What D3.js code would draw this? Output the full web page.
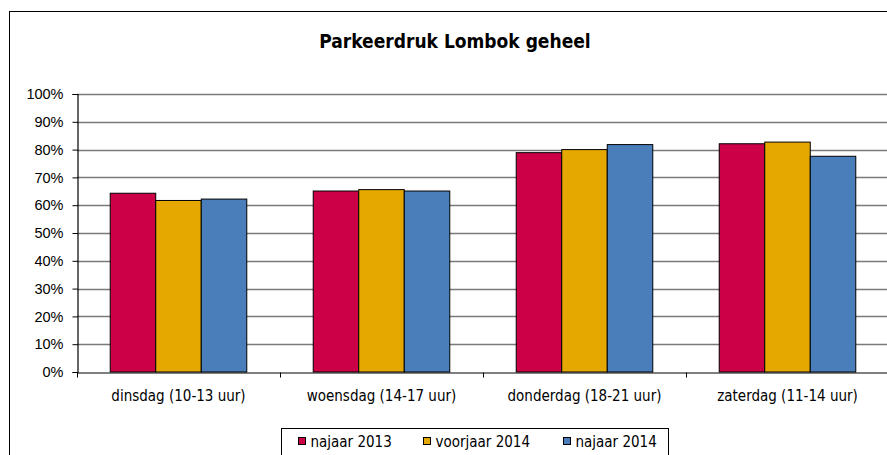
<!DOCTYPE html>
<html>
<head>
<meta charset="utf-8">
<script src="https://cdn.jsdelivr.net/npm/d3@7"></script>
<style>
body { margin: 0; background: #fff; }
svg { display: block; }
.cond { font-family: "DejaVu Sans Condensed", "DejaVu Sans", sans-serif; font-stretch: condensed; }
</style>
</head>
<body>
<div id="chart"></div>
<script>
// data
var days = ["dinsdag (10-13 uur)", "woensdag (14-17 uur)", "donderdag (18-21 uur)", "zaterdag (11-14 uur)"];
var seriesNames = ["najaar 2013", "voorjaar 2014", "najaar 2014"];
var najaar2013 = [0.643, 0.651, 0.789, 0.821];
var voorjaar2014 = [0.617, 0.656, 0.800, 0.827];
var najaar2014 = [0.622, 0.651, 0.818, 0.776];
var yTicks = [0, 0.1, 0.2, 0.3, 0.4, 0.5, 0.6, 0.7, 0.8, 0.9, 1];
var colors = ["#CC0047", "#E5A800", "#4A7EBB"];

var values = [najaar2013, voorjaar2014, najaar2014];

var svg = d3.select("#chart").append("svg").attr("width", 887).attr("height", 455);

// outer frame
svg.append("rect").attr("x", 9.5).attr("y", 11.5).attr("width", 900).attr("height", 460)
  .attr("fill", "#fff").attr("stroke", "#000").attr("stroke-width", 1);

svg.append("text").attr("class", "cond").attr("x", 455).attr("y", 48).attr("text-anchor", "middle")
  .attr("font-size", 19).attr("font-weight", "bold").text("Parkeerdruk Lombok geheel");

var plotL = 77, plotR = 889, plotT = 94, plotB = 372;

var x = d3.scaleBand().domain(days).range([plotL, plotR]).paddingInner(0).paddingOuter(0);
var xs = d3.scaleBand().domain(seriesNames).range([0, x.bandwidth()]).paddingInner(0).paddingOuter(0.73);
var y = d3.scaleLinear().domain([0, 1]).range([plotB, plotT]);

// gridlines
svg.append("g").selectAll("line").data(yTicks.slice(1)).join("line")
  .attr("x1", plotL).attr("x2", plotR)
  .attr("y1", function(d) { return Math.round(y(d)) + 0.5; })
  .attr("y2", function(d) { return Math.round(y(d)) + 0.5; })
  .attr("stroke", "#7a7a7a").attr("stroke-width", 1.3);

// bars
var groups = svg.append("g").selectAll("g").data(values).join("g")
  .attr("fill", function(d, i) { return colors[i]; });
groups.selectAll("rect").data(function(d, i) {
    return d.map(function(v, j) { return { s: seriesNames[i], day: days[j], v: v }; });
  }).join("rect")
  .attr("x", function(d) { return x(d.day) + xs(d.s); })
  .attr("width", xs.bandwidth())
  .attr("y", function(d) { return y(d.v); })
  .attr("height", function(d) { return plotB - y(d.v); })
  .attr("stroke", "#000").attr("stroke-width", 1);

// y axis
var yAxis = svg.append("g").attr("transform", "translate(" + (plotL + 0.5) + ",0)")
  .call(d3.axisLeft(y).tickValues(yTicks).tickFormat(d3.format(".0%")).tickSizeOuter(0).tickSize(5).tickPadding(9));
yAxis.select(".domain").attr("stroke", "#000").attr("stroke-width", 1.2);
yAxis.selectAll("text").attr("font-family", "Liberation Sans, Arial, sans-serif").attr("font-size", 14.5).attr("fill", "#000");

// x axis
var xAxis = svg.append("g").attr("transform", "translate(0," + (plotB + 0.5) + ")")
  .call(d3.axisBottom(x).tickSize(0).tickPadding(18).tickSizeOuter(0));
xAxis.select(".domain").attr("stroke", "#000").attr("stroke-width", 1.2);
xAxis.selectAll("text").attr("class", "cond").attr("font-family", null).attr("font-size", 15).attr("fill", "#000");
xAxis.append("g").selectAll("line").data(days).join("line")
  .attr("x1", function(d) { return x(d) + 0.5; }).attr("x2", function(d) { return x(d) + 0.5; })
  .attr("y1", 0).attr("y2", 5).attr("stroke", "#000");

// legend
var legend = svg.append("g").attr("transform", "translate(281.5,428.5)");
legend.append("rect").attr("width", 387).attr("height", 40).attr("fill", "#fff").attr("stroke", "#000");
var legendX = [17, 142, 282];
var items = legend.selectAll("g.item").data(seriesNames).join("g").attr("class", "item")
  .attr("transform", function(d, i) { return "translate(" + legendX[i] + ",0)"; });
items.append("rect").attr("x", 0).attr("y", 9).attr("width", 7).attr("height", 7)
  .attr("fill", function(d, i) { return colors[i]; }).attr("stroke", "#000");
items.append("text").attr("class", "cond").attr("x", 12).attr("y", 18).attr("font-size", 15).text(function(d) { return d; });
</script>
</body>
</html>
